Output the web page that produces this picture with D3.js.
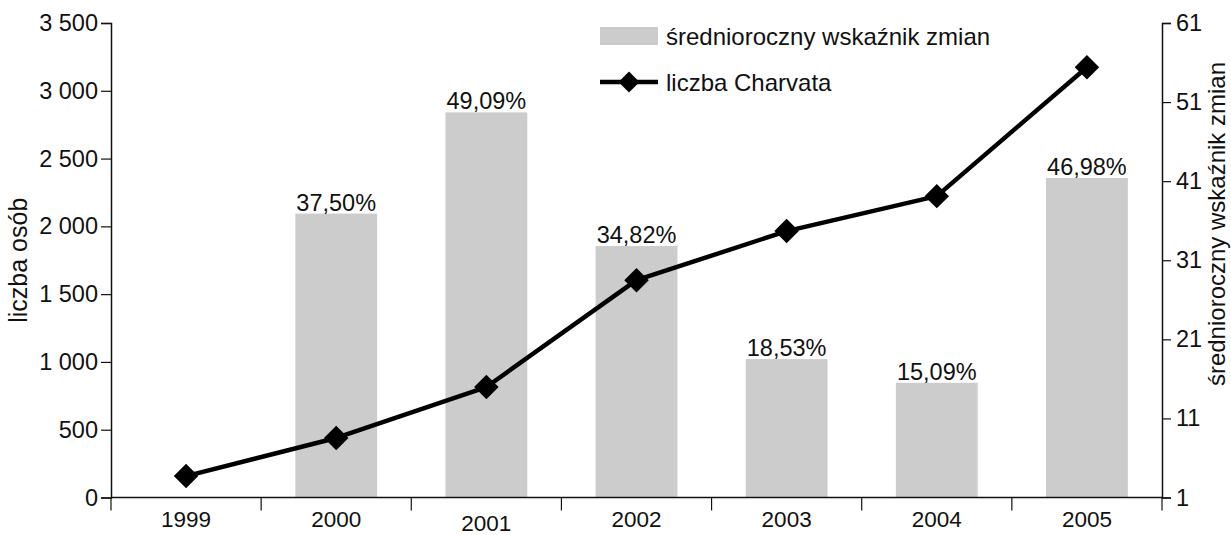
<!DOCTYPE html>
<html>
<head>
<meta charset="utf-8">
<script src="https://cdn.jsdelivr.net/npm/d3@7"></script>
<style>
  body { margin: 0; background: #fff; }
  text { font-family: "Liberation Sans", Arial, sans-serif; fill: #111; }
</style>
</head>
<body>
<div id="chart"></div>
<script>
// data
const years = ["1999", "2000", "2001", "2002", "2003", "2004", "2005"];
const barHeights = [null, 36.9, 49.7, 32.8, 18.5, 15.5, 41.4];   // on right axis
const barLabels = [null, "37,50%", "49,09%", "34,82%", "18,53%", "15,09%", "46,98%"];
const charvata = [158, 439, 815, 1603, 1965, 2223, 3174];        // on left axis
const leftTicks = [0, 500, 1000, 1500, 2000, 2500, 3000, 3500];
const rightTicks = [1, 11, 21, 31, 41, 51, 61];

const width = 1231, height = 535;
const margin = { top: 23, right: 69, bottom: 37.5, left: 111 };

const svg = d3.select("#chart")
    .append("svg")
    .attr("width", width)
    .attr("height", height);

const x = d3.scaleBand()
    .domain(years)
    .range([margin.left, width - margin.right])
    .paddingInner(0)
    .paddingOuter(0);

const yLeft = d3.scaleLinear()
    .domain([0, 3500])
    .range([height - margin.bottom, margin.top]);

const yRight = d3.scaleLinear()
    .domain([1, 61])
    .range([height - margin.bottom, margin.top]);

const barW = x.bandwidth() * 0.545;
const bars = years.map((y, i) => ({ year: y, v: barHeights[i], label: barLabels[i] }))
    .filter(d => d.v != null);

// bars
svg.append("g")
    .selectAll("rect")
    .data(bars)
    .join("rect")
    .attr("x", d => x(d.year) + (x.bandwidth() - barW) / 2)
    .attr("width", barW)
    .attr("y", d => yRight(d.v))
    .attr("height", d => yRight(1) - yRight(d.v))
    .attr("fill", "#cccccc");

// bar labels
svg.append("g")
    .selectAll("text")
    .data(bars)
    .join("text")
    .attr("x", d => x(d.year) + x.bandwidth() / 2)
    .attr("y", d => yRight(d.v) - 3)
    .attr("text-anchor", "middle")
    .attr("font-size", 23.5)
    .text(d => d.label);

// axes
const fmt = d => d3.format(",")(d).replace(/,/g, " ");

const gLeft = svg.append("g")
    .attr("transform", `translate(${margin.left},0)`)
    .call(d3.axisLeft(yLeft).tickValues(leftTicks).tickFormat(fmt).tickSizeOuter(0).tickSize(10).tickPadding(3));
gLeft.selectAll("text").attr("font-size", 23.5).attr("font-family", "Liberation Sans, Arial, sans-serif");

const gRight = svg.append("g")
    .attr("transform", `translate(${width - margin.right},0)`)
    .call(d3.axisRight(yRight).tickValues(rightTicks).tickSizeOuter(0).tickSize(9).tickPadding(5));
gRight.selectAll("text").attr("font-size", 23.5).attr("font-family", "Liberation Sans, Arial, sans-serif");

const gBottom = svg.append("g")
    .attr("transform", `translate(0,${height - margin.bottom})`);
gBottom.append("line")
    .attr("x1", margin.left).attr("x2", width - margin.right)
    .attr("stroke", "#111").attr("stroke-width", 1.5);
// tick marks between categories (including both ends)
const edges = years.map(d => x(d)).concat([x(years[years.length - 1]) + x.bandwidth()]);
gBottom.selectAll("line.tk")
    .data(edges)
    .join("line")
    .attr("class", "tk")
    .attr("x1", d => d).attr("x2", d => d)
    .attr("y1", 0).attr("y2", 13)
    .attr("stroke", "#111").attr("stroke-width", 1.2);
gBottom.selectAll("text")
    .data(years)
    .join("text")
    .attr("x", d => x(d) + x.bandwidth() / 2)
    .attr("y", d => d === "2001" ? 33 : 29)
    .attr("text-anchor", "middle")
    .attr("font-size", 22.5)
    .text(d => d);

svg.selectAll(".domain").attr("stroke", "#111").attr("stroke-width", 1.5);
svg.selectAll(".tick line").attr("stroke", "#111").attr("stroke-width", 1.2);

// axis titles
svg.append("text")
    .attr("transform", `translate(27,${(margin.top + height - margin.bottom) / 2}) rotate(-90)`)
    .attr("text-anchor", "middle")
    .attr("font-size", 25)
    .text("liczba osób");

svg.append("text")
    .attr("transform", `translate(1225,224) rotate(-90)`)
    .attr("text-anchor", "middle")
    .attr("font-size", 24)
    .text("średnioroczny wskaźnik zmian");

// line
const pts = years.map((y, i) => ({ year: y, v: charvata[i] }));
const line = d3.line()
    .x(d => x(d.year) + x.bandwidth() / 2)
    .y(d => yLeft(d.v));

svg.append("path")
    .datum(pts)
    .attr("d", line)
    .attr("fill", "none")
    .attr("stroke", "#000")
    .attr("stroke-width", 4.5)
    .attr("stroke-linejoin", "round");

const diamond = d3.symbol().type(d3.symbolSquare).size(300);
svg.append("g")
    .selectAll("path")
    .data(pts)
    .join("path")
    .attr("d", diamond)
    .attr("transform", d => `translate(${x(d.year) + x.bandwidth() / 2},${yLeft(d.v)}) rotate(45)`)
    .attr("fill", "#000");

// legend
const lg = svg.append("g").attr("transform", "translate(600,0)");
lg.append("rect")
    .attr("x", 0).attr("y", 27).attr("width", 58).attr("height", 18)
    .attr("fill", "#cccccc");
lg.append("text")
    .attr("x", 66).attr("y", 45)
    .attr("font-size", 24)
    .text("średnioroczny wskaźnik zmian");
lg.append("line")
    .attr("x1", 0).attr("x2", 58).attr("y1", 82).attr("y2", 82)
    .attr("stroke", "#000").attr("stroke-width", 4.5);
lg.append("path")
    .attr("d", d3.symbol().type(d3.symbolSquare).size(220))
    .attr("transform", "translate(29,82) rotate(45)")
    .attr("fill", "#000");
lg.append("text")
    .attr("x", 66).attr("y", 91)
    .attr("font-size", 24)
    .text("liczba Charvata");
</script>
</body>
</html>
